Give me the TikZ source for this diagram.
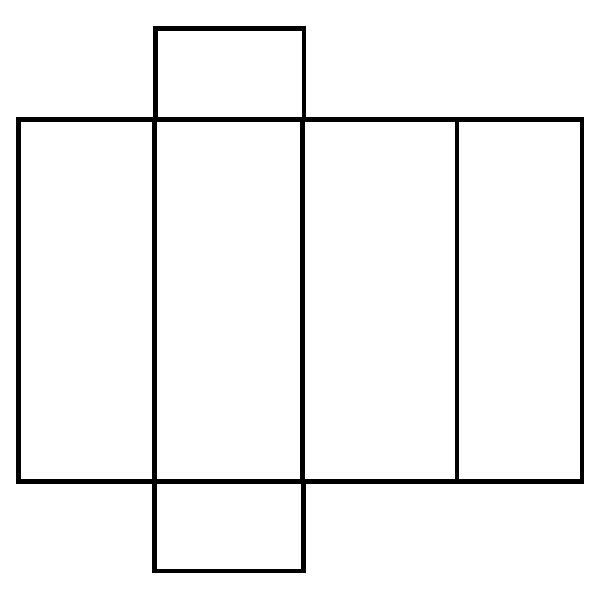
\documentclass[tikz,border=0pt]{standalone}
\begin{document}
\begin{tikzpicture}[x=1pt,y=-1pt,netline/.style={draw=black,line width=4.8pt,line join=miter}]
\useasboundingbox (0,0) rectangle (600,600);
% main strip
\draw[netline] (18.5,119.3) rectangle (582,481.5);
\draw[netline] (154.3,119.3) -- (154.3,481.5);
\draw[netline] (302.3,119.3) -- (302.3,481.5);
\draw[netline] (457,119.3) -- (457,481.5);
% top flap
\draw[netline] (155.5,119.3) -- (155.5,28.3) -- (304,28.3) -- (304,119.3);
% bottom flap
\draw[netline] (154.3,481.5) -- (154.3,571) -- (303.3,571) -- (303.3,481.5);
\end{tikzpicture}
\end{document}
